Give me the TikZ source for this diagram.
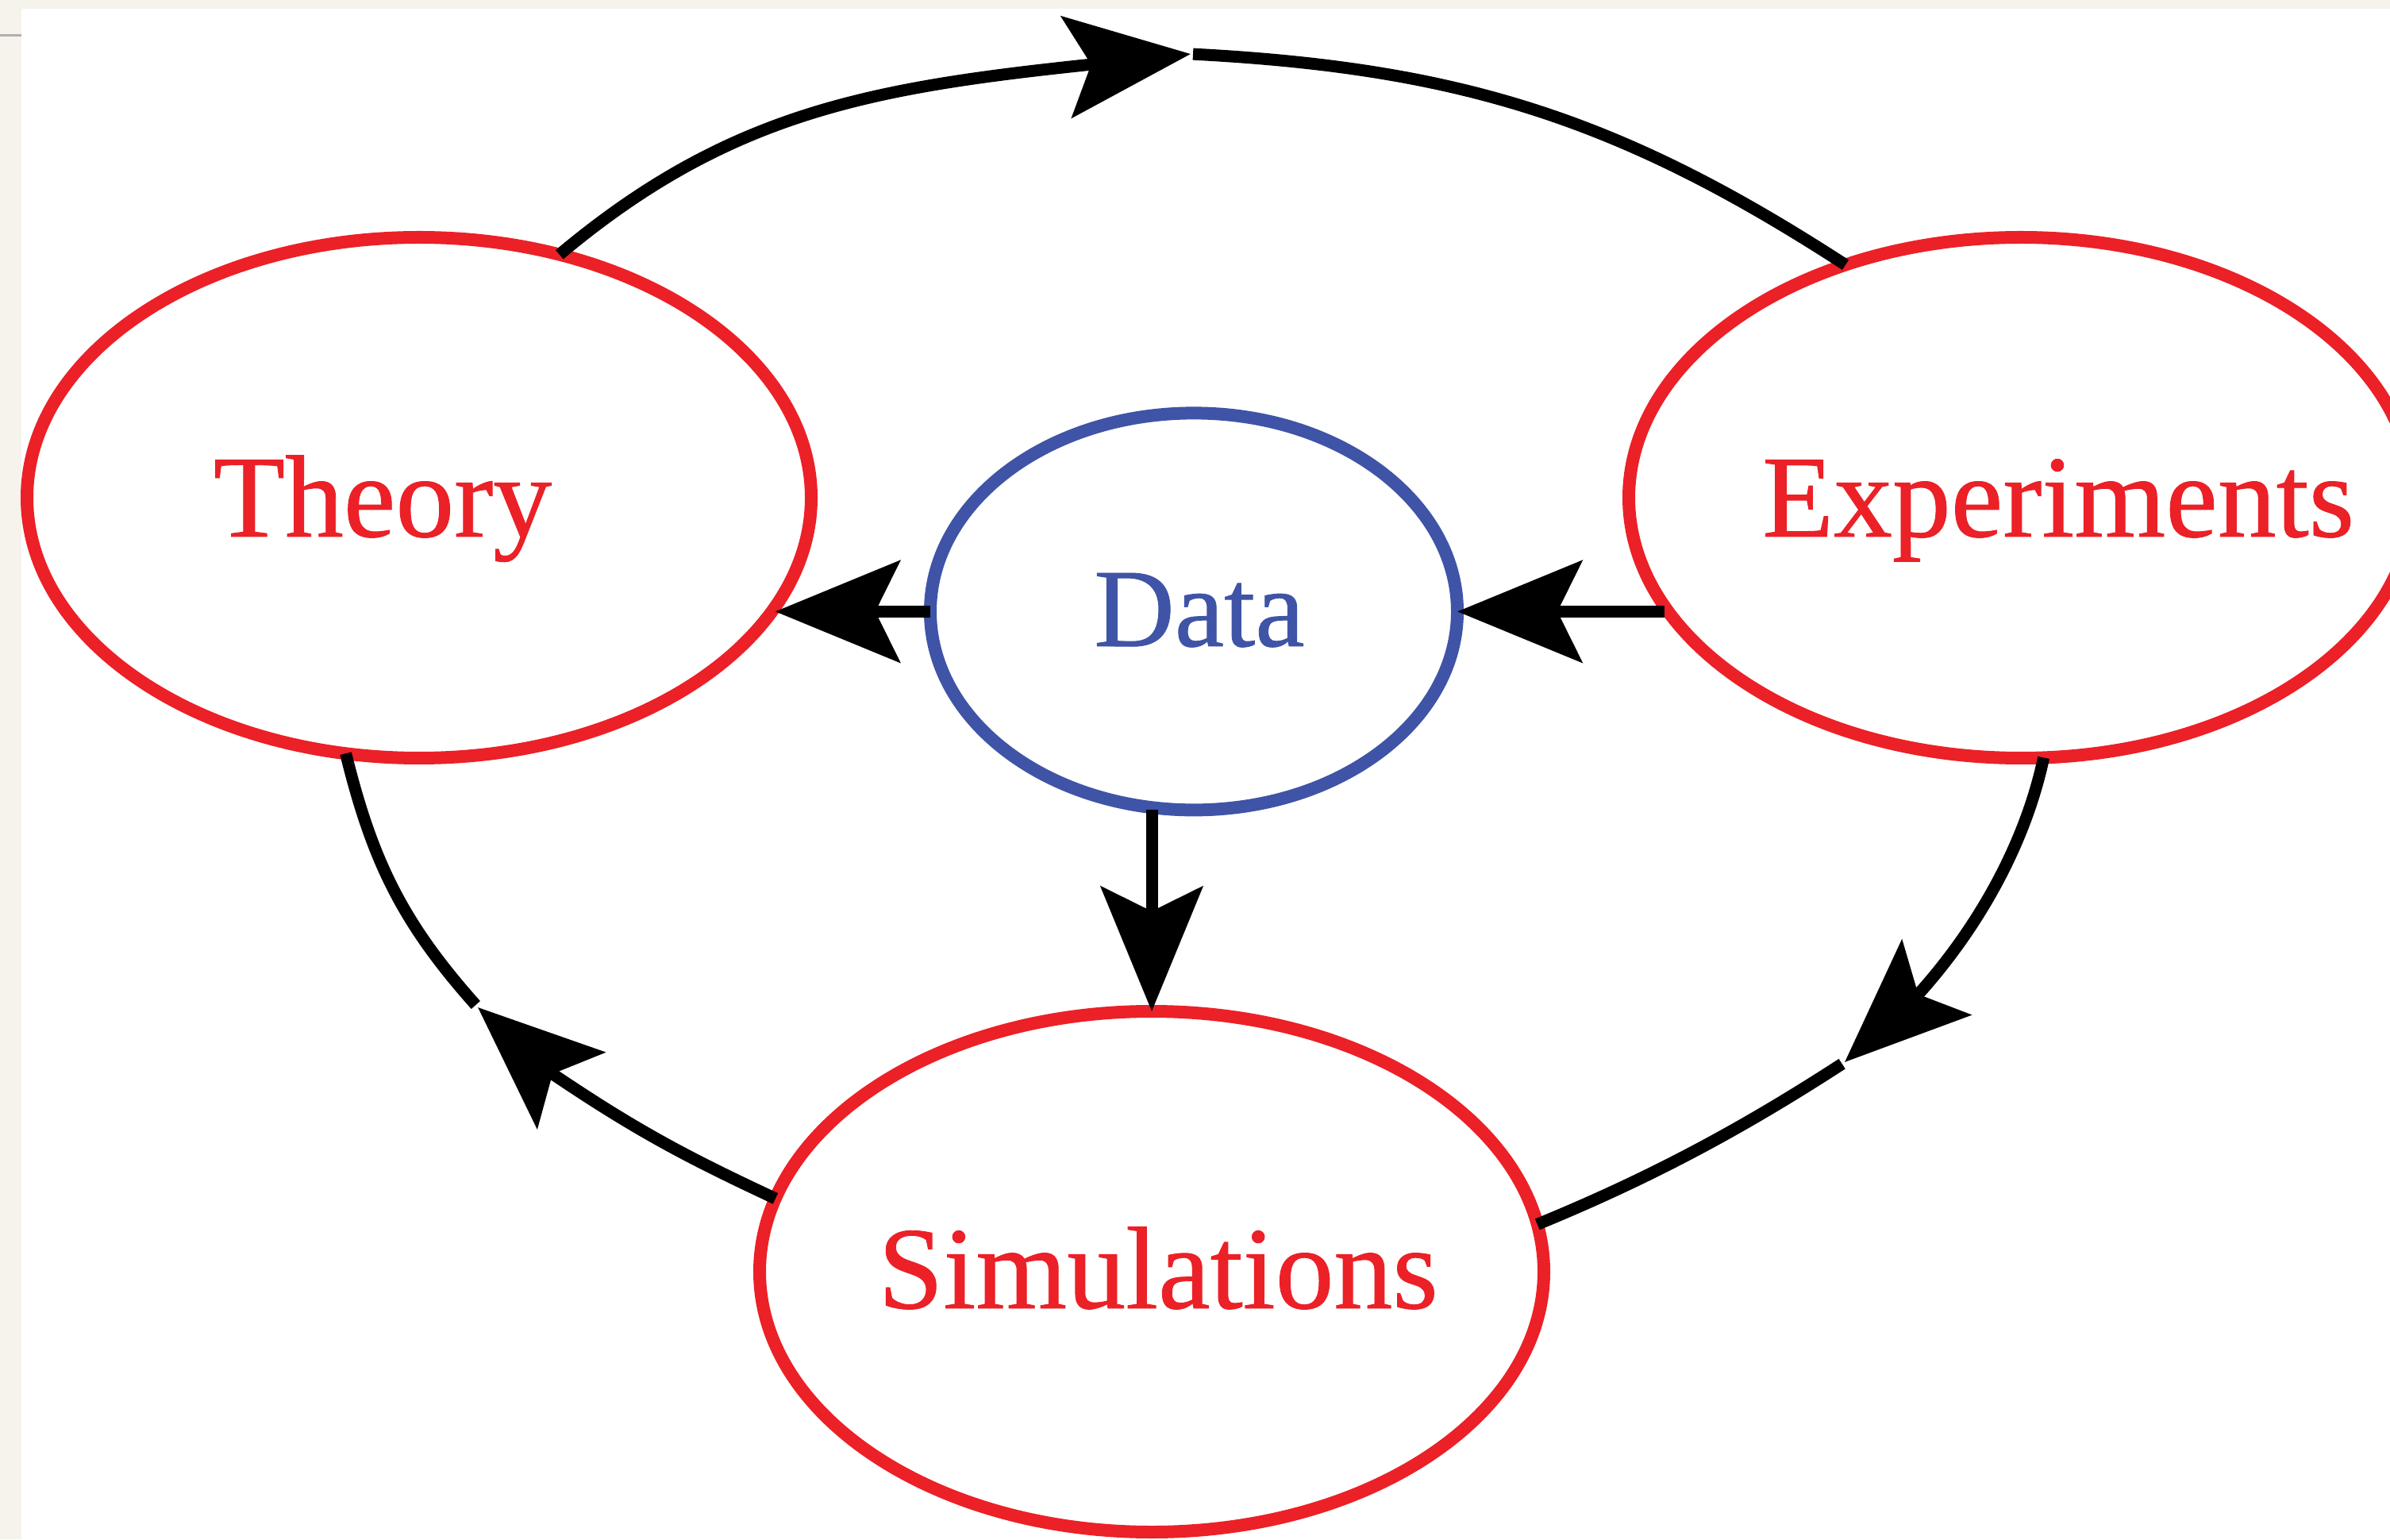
\documentclass[tikz,border=0pt]{standalone}
\usepackage{fontspec}
\setmainfont{Liberation Serif}
\newfontfamily\labelserif{Liberation Serif}[FakeBold=0.6]
\usetikzlibrary{shapes.geometric,arrows.meta}
\definecolor{cyclered}{RGB}{236,32,39}
\definecolor{datablue}{RGB}{63,84,166}
\definecolor{paper}{RGB}{246,243,237}
\definecolor{rulegray}{RGB}{176,176,172}
\begin{document}
\begin{tikzpicture}[x=1cm,y=1cm,
  bubble/.style={ellipse, draw=cyclered, line width=0.16cm, inner sep=0pt, outer sep=0pt,
    minimum width=9.88cm, minimum height=6.56cm},
  databubble/.style={ellipse, draw=datablue, line width=0.16cm, inner sep=0pt, outer sep=0pt,
    minimum width=6.64cm, minimum height=5.00cm},
  bigword/.style={text=cyclered, font=\labelserif\fontsize{42}{50}\selectfont, anchor=base, inner sep=0pt},
  dataword/.style={text=datablue, font=\labelserif\fontsize{40}{48}\selectfont, anchor=base, inner sep=0pt},
  flow/.style={draw=black, line width=0.15cm},
  >={Stealth[length=1.57cm,width=1.28cm,inset=0.31cm]}]
  % page and paper margin
  \useasboundingbox (0,0) rectangle (30.11,19.39);
  \clip (0,0) rectangle (30.11,19.39);
  \fill[paper] (0,0) rectangle (30.11,19.39);
  \fill[white] (0.27,0) rectangle (30.11,19.28);
  \draw[rulegray, line width=0.03cm] (0,18.945) -- (0.27,18.945);

  % the four bubbles
  \node[bubble] (theory) at (5.28,13.12) {};
  \node[bubble] (exper) at (25.46,13.12) {};
  \node[databubble] (data) at (15.04,11.686) {};
  \node[bubble] (sim) at (14.51,3.37) {};

  % their labels
  \node[bigword] (theorytext) at (4.82,12.63) {Theory};
  \node[bigword] (expertext) at (25.93,12.63) {Experiments};
  \node[dataword] (datatext) at (15.11,11.25) {Data};
  \node[bigword] (simtext) at (14.59,2.91) {Simulations};

  % each arc of the outer cycle carries its arrow head half way along:
  % the arc runs into the notch of the head, the head points at the tip
  \coordinate (topnotch) at (13.747,18.578);
  \coordinate (topmid) at (15.00,18.71);
  \coordinate (rightnotch) at (24.166,6.864);
  \coordinate (rightmid) at (23.24,6.01);
  \coordinate (leftnotch) at (6.961,5.862);
  \coordinate (leftmid) at (6.02,6.70);

  % outer cycle: Theory -> Experiments -> Simulations -> Theory
  \draw[flow] (theory.60) to[out=40,in=186] (topnotch);
  \draw[flow,->] (topnotch) -- (topmid);
  \draw[flow, shorten <=0.03cm] (topmid) to[out=-3,in=147] (exper.127.9);
  \draw[flow] (exper.-85.3) to[out=-102,in=48,looseness=0.85] (rightnotch);
  \draw[flow,->] (rightnotch) -- (rightmid);
  \draw[flow, shorten <=0.04cm] (rightmid) to[out=-147,in=22.3,looseness=0.9] (sim.7.4);
  \draw[flow] (sim.169) to[out=155,in=-34] (leftnotch);
  \draw[flow,->] (leftnotch) -- (leftmid);
  \draw[flow, shorten <=0.04cm] (leftmid) to[out=131.7,in=-76.2] (theory.-106.5);

  % data feeds all three
  \draw[flow,->] (data.west) -- (theory.-17.9 |- data.west);
  \draw[flow,->] (exper.197.9 |- data.east) -- (data.east);
  \draw[flow,->] (data.south -| sim.north) -- (sim.north);
\end{tikzpicture}
\end{document}
